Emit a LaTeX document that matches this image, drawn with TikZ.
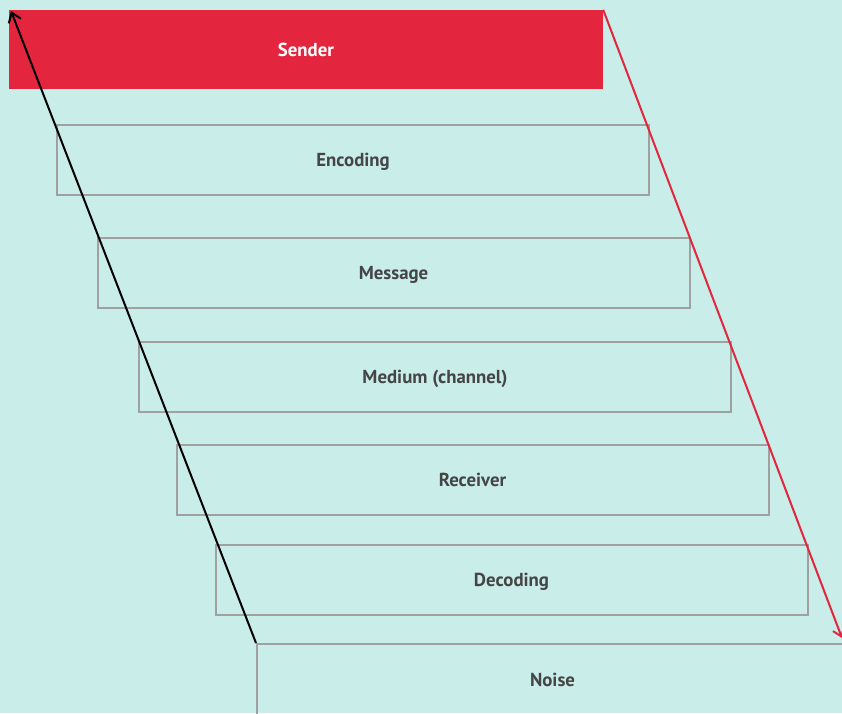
\documentclass[tikz,border=0pt]{standalone}
\usepackage{fontspec}
\setmainfont{PT Sans}
\usetikzlibrary{arrows.meta}
\definecolor{bgc}{HTML}{C9EDE8}
\definecolor{redc}{HTML}{E3263E}
\definecolor{grayc}{HTML}{A0A0A0}
\definecolor{textc}{HTML}{454545}
\tikzset{labelfont/.style={font=\fontsize{18.8}{22}\selectfont\bfseries,text height=13pt,text depth=0pt}}
\begin{document}
\begin{tikzpicture}[x=1pt,y=-1pt,
  stepbox/.style={draw=grayc,line width=2pt,minimum width=592pt,minimum height=70pt,inner sep=0pt,
    labelfont,text=textc},
  redbox/.style={fill=redc,draw=none,minimum width=594pt,minimum height=79pt,inner sep=0pt,
    labelfont,text=white}]
\useasboundingbox (0,0) rectangle (842,713);
\clip (0,0) rectangle (842,713);
\fill[bgc] (0,0) rectangle (842,713);
\node[redbox] (sender) at (306,49.5) {Sender};
\node[stepbox] (encoding) at (353,160) {Encoding};
\node[stepbox] (message) at (393.5,273) {Message};
\node[stepbox] (medium) at (435,377) {Medium (channel)};
\node[stepbox] (receiver) at (472.5,480) {Receiver};
\node[stepbox] (decoding) at (511.5,580) {Decoding};
\node[stepbox,minimum height=90pt,anchor=north west] (noise) at (256,643) {};
\node[labelfont,text=textc] (noisetext) at (552.5,679.5) {Noise};
\coordinate (redend) at (842,638);
\coordinate (blackend) at (11,11);
\draw[redc,line width=2pt,-{Straight Barb[length=8pt,width=12pt]}] (sender.north east) -- (redend);
\draw[black,line width=2pt,-{Straight Barb[length=9pt,width=13pt]}] (noise.north west) -- (blackend);
\end{tikzpicture}
\end{document}
